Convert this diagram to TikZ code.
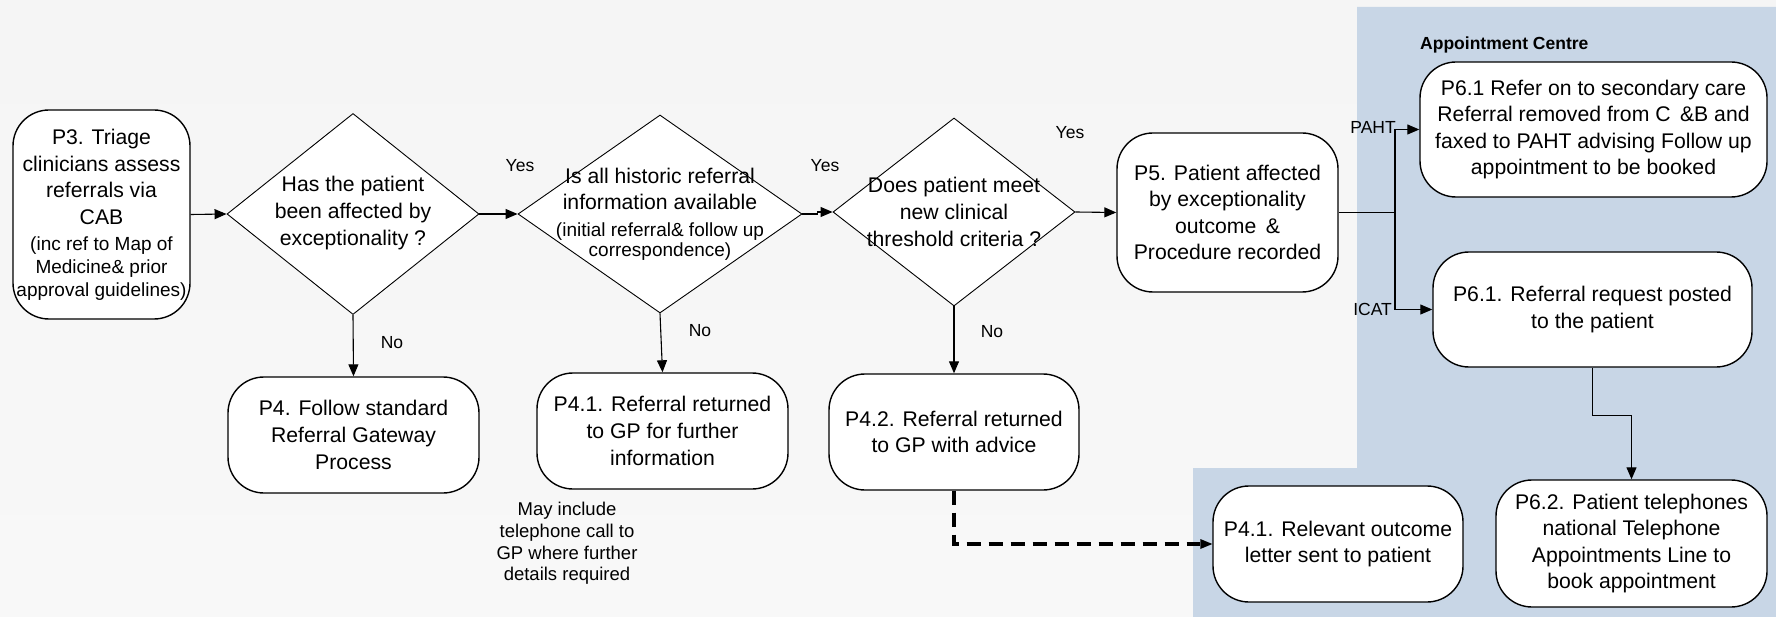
\documentclass[tikz,border=0pt]{standalone}
\usepackage{fontspec}
\setmainfont{Liberation Sans}
\usetikzlibrary{arrows.meta,shapes.geometric}

\definecolor{bgtop}{RGB}{245,245,245}
\definecolor{bgmid}{RGB}{239,239,239}
\definecolor{bgbot}{RGB}{248,248,248}
\definecolor{panelblue}{RGB}{200,214,230}

\newcommand\fsMain{\fontsize{21.2}{26.6}\selectfont}
\newcommand\fsSmall{\fontsize{19}{22.5}\selectfont}
\newcommand\fsNote{\fontsize{18.5}{21.7}\selectfont}
\newcommand\fsLab{\fontsize{17.5}{21}\selectfont}
\newcommand\fsHead{\fontsize{17.5}{21}\selectfont\bfseries}

\tikzset{
  procbox/.style={draw=black, line width=1.4pt, fill=white, rounded corners=36pt,
                  inner sep=0pt, align=center, font=\fsMain},
  decision/.style={diamond, draw=black, line width=0.9pt, fill=white, inner sep=0pt},
  dtext/.style={align=center, font=\fsMain, inner sep=0pt},
  lab/.style={font=\fsLab, inner sep=0pt},
  conn/.style={line width=1.1pt, line join=miter},
  flow/.style={conn, -{Triangle[length=12pt,width=10pt]}},
  dashflow/.style={line width=3.5pt, dash pattern=on 14pt off 8pt,
                   -{Triangle[length=12pt,width=10pt,line width=0pt]}},
}

\begin{document}
\begin{tikzpicture}[x=1pt,y=-1pt]
  % canvas and shaded backdrop
  \useasboundingbox (0,0) rectangle (1776,617);
  \fill[top color=bgtop, middle color=bgmid, bottom color=bgbot] (0,0) rectangle (1776,617);

  % Appointment Centre panel
  \fill[panelblue] (1357,7) -- (1776,7) -- (1776,617) -- (1193,617) -- (1193,468) -- (1357,468) -- cycle;
  \node[font=\fsHead, anchor=west, inner sep=0pt] (ac) at (1420,45) {Appointment Centre};

  % main flow
  \node[procbox, minimum width=177pt, minimum height=209pt] (p3) at (101.5,214.5)
    {P3. Triage\\clinicians assess\\referrals via\\CAB\\{\fsSmall (inc ref to Map of}\\[-4pt]{\fsSmall Medicine\& prior}\\[-4pt]{\fsSmall approval guidelines)}};

  \node[decision, minimum width=252pt, minimum height=201pt] (d1) at (353,214) {};
  \node[dtext] (d1t) at (353,213) {Has the patient\\been affected by\\exceptionality ?};

  \node[decision, minimum width=284pt, minimum height=198pt] (d2) at (660,214) {};
  \node[dtext] (d2t) at (660,214) {Is all historic referral\\information available\\{\fsSmall (initial referral\& follow up}\\[-6.5pt]{\fsSmall correspondence)}};

  \node[decision, minimum width=242pt, minimum height=188pt] (d3) at (954,212) {};
  \node[dtext] (d3t) at (954,212) {Does patient meet\\new clinical\\threshold criteria ?};

  \node[procbox, minimum width=221pt, minimum height=159pt] (p5) at (1227.5,212.5)
    {P5. Patient affected\\by exceptionality\\outcome \,\&\\Procedure recorded};

  \node[procbox, minimum width=251pt, minimum height=116pt] (p4) at (353.5,435)
    {P4. Follow standard\\Referral Gateway\\Process};
  \node[procbox, minimum width=251pt, minimum height=116pt] (p41) at (662.5,431)
    {P4.1. Referral returned\\to GP for further\\information};
  \node[procbox, minimum width=250pt, minimum height=116pt] (p42) at (954,432)
    {P4.2. Referral returned\\to GP with advice};

  \node[font=\fsNote, align=center, inner sep=0pt] (note) at (567,543.5)
    {May include\\telephone call to\\GP where further\\details required};

  % Appointment Centre steps
  \node[procbox, minimum width=347pt, minimum height=135pt] (p61a) at (1593.5,129.5)
    {P6.1 Refer on to secondary care\\Referral removed from C \,\&B and\\faxed to PAHT advising Follow up\\appointment to be booked};
  \node[procbox, minimum width=319pt, minimum height=115pt] (p61b) at (1592.5,309.5)
    {P6.1. Referral request posted\\to the patient};
  \node[procbox, minimum width=271pt, minimum height=127pt] (p62) at (1631.5,543.5)
    {P6.2. Patient telephones\\national Telephone\\Appointments Line to\\book appointment};
  \node[procbox, minimum width=250pt, minimum height=116pt] (p41o) at (1338,544)
    {P4.1. Relevant outcome\\letter sent to patient};

  % connectors
  \draw[flow] (p3.east) -- (d1.west);
  \draw[flow] (d1.east) -- (d2.west);
  \draw[flow] (d2.east) -- ++(15,0) |- (d3.west);
  \draw[flow] (d3.east) -- (p5.west);
  \draw[flow] (d1.south) -- (p4.north);
  \draw[flow] (d2.south) -- (p41.north);
  \draw[flow] (d3.south) -- (p42.north);

  \coordinate (split) at (1395,212.5);
  \draw[conn] (p5.east) -- (split);
  \draw[flow] (split) |- (p61a.west);
  \draw[flow] (split) |- (p61b.west);
  \draw[flow] (p61b.south) -- ++(0,48) -| (p62.north);
  \draw[dashflow] (p42.south) |- (p41o.west);

  % branch labels
  \node[lab] (y1) at (520,166) {Yes};
  \node[lab] (y2) at (825,166) {Yes};
  \node[lab] (y3) at (1070,133) {Yes};
  \node[lab] (n1) at (392,343) {No};
  \node[lab] (n2) at (700,331) {No};
  \node[lab] (n3) at (992,332) {No};
  \node[lab, anchor=east] (paht) at (1396,127) {PAHT};
  \node[lab, anchor=east] (icat) at (1392,309) {ICAT};
\end{tikzpicture}
\end{document}
